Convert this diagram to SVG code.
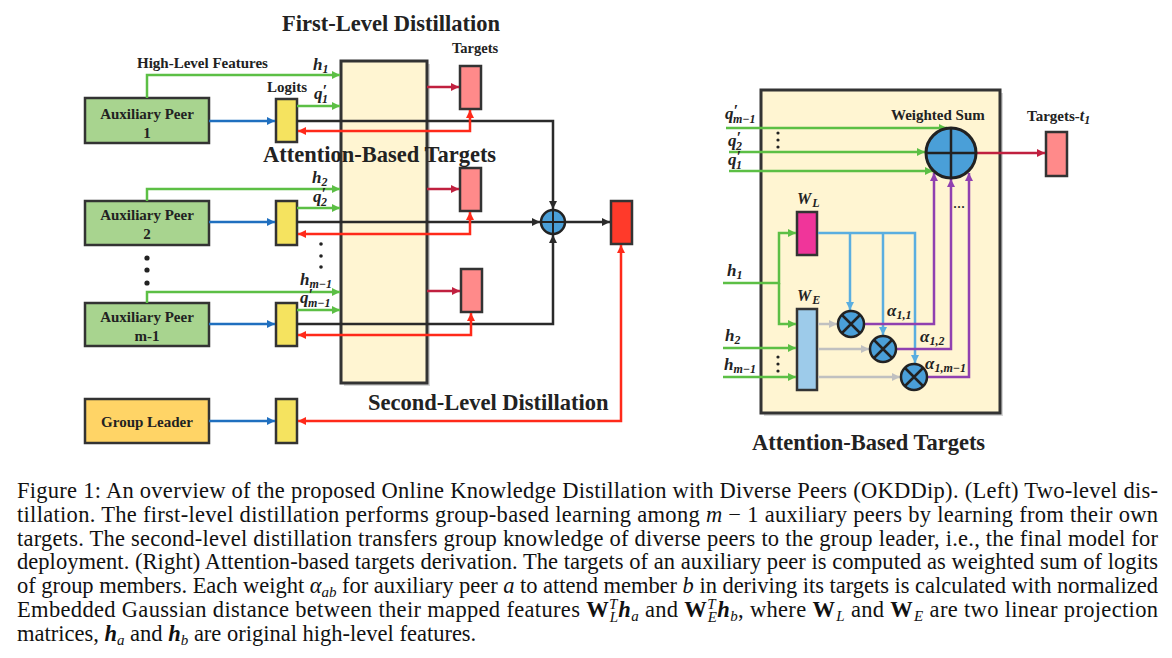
<svg xmlns="http://www.w3.org/2000/svg" width="1172" height="658" viewBox="0 0 1172 658">
<style>
.box{stroke:#333;stroke-width:2.5}
.lbl{font-family:"Liberation Serif",serif;font-weight:bold;fill:#222}
.m{font-family:"Liberation Serif",serif;font-weight:bold;font-style:italic;fill:#222}
.cap{font-family:"Liberation Serif",serif;font-size:22.5px;fill:#111}
.g{stroke:#5cbf45;stroke-width:2.5;fill:none}
.b{stroke:#1f6fbf;stroke-width:2.5;fill:none}
.k{stroke:#2a2a2a;stroke-width:2.5;fill:none}
.r{stroke:#ff2a1a;stroke-width:2.5;fill:none}
.c{stroke:#c0203f;stroke-width:2.5;fill:none}
.lb{stroke:#5aaee0;stroke-width:2.5;fill:none}
.gr{stroke:#c0c0c0;stroke-width:2.5;fill:none}
.p{stroke:#9040b0;stroke-width:2.5;fill:none}
</style>
<defs>
<marker id="ag" viewBox="0 0 10 10" refX="10" refY="5" markerWidth="9" markerHeight="8" markerUnits="userSpaceOnUse" orient="auto-start-reverse"><path d="M0,0L10,5L0,10z" fill="#5cbf45"/></marker>
<marker id="ab" viewBox="0 0 10 10" refX="10" refY="5" markerWidth="9" markerHeight="8" markerUnits="userSpaceOnUse" orient="auto-start-reverse"><path d="M0,0L10,5L0,10z" fill="#1f6fbf"/></marker>
<marker id="ak" viewBox="0 0 10 10" refX="10" refY="5" markerWidth="9" markerHeight="8" markerUnits="userSpaceOnUse" orient="auto-start-reverse"><path d="M0,0L10,5L0,10z" fill="#2a2a2a"/></marker>
<marker id="ar" viewBox="0 0 10 10" refX="10" refY="5" markerWidth="9" markerHeight="8" markerUnits="userSpaceOnUse" orient="auto-start-reverse"><path d="M0,0L10,5L0,10z" fill="#ff2a1a"/></marker>
<marker id="ac" viewBox="0 0 10 10" refX="10" refY="5" markerWidth="9" markerHeight="8" markerUnits="userSpaceOnUse" orient="auto-start-reverse"><path d="M0,0L10,5L0,10z" fill="#c0203f"/></marker>
<marker id="al" viewBox="0 0 10 10" refX="10" refY="5" markerWidth="9" markerHeight="8" markerUnits="userSpaceOnUse" orient="auto-start-reverse"><path d="M0,0L10,5L0,10z" fill="#5aaee0"/></marker>
<marker id="agr" viewBox="0 0 10 10" refX="10" refY="5" markerWidth="9" markerHeight="8" markerUnits="userSpaceOnUse" orient="auto-start-reverse"><path d="M0,0L10,5L0,10z" fill="#c0c0c0"/></marker>
<marker id="ap" viewBox="0 0 10 10" refX="10" refY="5" markerWidth="9" markerHeight="8" markerUnits="userSpaceOnUse" orient="auto-start-reverse"><path d="M0,0L10,5L0,10z" fill="#9040b0"/></marker>
</defs>
<rect width="1172" height="658" fill="#fff"/>

<!-- Left: attention box -->
<g id="attn-left">
<rect x="344" y="64" width="86" height="322" fill="#bbb" opacity="0.6"/>
<rect x="341" y="61" width="86" height="322" fill="#fff5d2" stroke="#333" stroke-width="3"/>
</g>

<g id="peer1"><rect class="box" x="85" y="98" width="124" height="45" fill="#a8d48f"/>
<text class="lbl" font-size="15" text-anchor="middle" x="147" y="119">Auxiliary Peer</text><text class="lbl" font-size="15" text-anchor="middle" x="147" y="138">1</text></g>
<g id="peer2"><rect class="box" x="85" y="201" width="124" height="44" fill="#a8d48f"/>
<text class="lbl" font-size="15" text-anchor="middle" x="147" y="220">Auxiliary Peer</text><text class="lbl" font-size="15" text-anchor="middle" x="147" y="239">2</text></g>
<g id="peerm1"><rect class="box" x="85" y="303" width="124" height="43" fill="#a8d48f"/>
<text class="lbl" font-size="15" text-anchor="middle" x="147" y="322">Auxiliary Peer</text><text class="lbl" font-size="15" text-anchor="middle" x="147" y="341">m-1</text></g>
<g id="leader"><rect class="box" x="85" y="399" width="124" height="44" fill="#ffd466"/>
<text class="lbl" font-size="15" text-anchor="middle" x="147" y="427">Group Leader</text></g>
<g id="vdots-left" fill="#222"><circle cx="147" cy="258" r="2.6"/><circle cx="147" cy="270" r="2.6"/><circle cx="147" cy="283" r="2.6"/></g>

<g id="logits1"><rect class="box" x="276" y="99" width="21" height="43" fill="#f5e35f"/></g>
<g id="logits2"><rect class="box" x="276" y="201" width="21" height="44" fill="#f5e35f"/></g>
<g id="logits3"><rect class="box" x="276" y="303" width="21" height="43" fill="#f5e35f"/></g>
<g id="logits4"><rect class="box" x="276" y="399" width="21" height="44" fill="#f5e35f"/></g>

<g id="target1"><rect class="box" x="460" y="66" width="21" height="43" fill="#ff8a8a"/></g>
<g id="target2"><rect class="box" x="460" y="168" width="21" height="43" fill="#ff8a8a"/></g>
<g id="target3"><rect class="box" x="461" y="269" width="21" height="43" fill="#ff8a8a"/></g>
<g id="final"><rect class="box" x="611" y="201" width="21" height="43" fill="#ff3a2a"/></g>

<g id="connectors-left">
<path class="g" d="M147,98V75H340" marker-end="url(#ag)"/>
<path class="g" d="M147,201V189H340" marker-end="url(#ag)"/>
<path class="g" d="M147,303V292H340" marker-end="url(#ag)"/>
<path class="g" d="M297,106H340" marker-end="url(#ag)"/>
<path class="g" d="M297,208H340" marker-end="url(#ag)"/>
<path class="g" d="M297,310H340" marker-end="url(#ag)"/>
<path class="b" d="M209,121H275" marker-end="url(#ab)"/>
<path class="b" d="M209,222H275" marker-end="url(#ab)"/>
<path class="b" d="M209,324H275" marker-end="url(#ab)"/>
<path class="b" d="M209,421H275" marker-end="url(#ab)"/>
<path class="k" d="M297,121H553V209" marker-end="url(#ak)"/>
<path class="k" d="M297,222H540" marker-end="url(#ak)"/>
<path class="k" d="M297,324H553V235" marker-end="url(#ak)"/>
<path class="k" d="M565,222H610" marker-end="url(#ak)"/>
<path class="c" d="M427,87H459" marker-end="url(#ac)"/>
<path class="c" d="M427,189H459" marker-end="url(#ac)"/>
<path class="c" d="M427,291H460" marker-end="url(#ac)"/>
<path class="r" d="M298,131H470V110" marker-start="url(#ar)" marker-end="url(#ar)"/>
<path class="r" d="M298,234H470V212" marker-start="url(#ar)" marker-end="url(#ar)"/>
<path class="r" d="M298,335H471V313" marker-start="url(#ar)" marker-end="url(#ar)"/>
<path class="r" d="M298,421H621V245" marker-start="url(#ar)" marker-end="url(#ar)"/>
</g>

<g id="plus-left">
<circle cx="553" cy="222" r="12" fill="#4a9fd8" stroke="#222" stroke-width="2.5"/>
<path d="M541,222H565M553,210V234" stroke="#222" stroke-width="2"/>
</g>
<g id="vdots-mid" fill="#222"><circle cx="321" cy="244" r="1.8"/><circle cx="321" cy="256" r="1.8"/><circle cx="321" cy="267" r="1.8"/></g>

<g id="labels-left">
<text class="lbl" font-size="22.5" x="282" y="31">First-Level Distillation</text>
<text class="lbl" font-size="14.5" x="452" y="53">Targets</text>
<text class="lbl" font-size="15" x="137" y="68">High-Level Features</text>
<text class="lbl" font-size="15" x="267" y="92">Logits</text>
<text class="lbl" font-size="22.5" x="263" y="162">Attention-Based Targets</text>
<text class="lbl" font-size="22.5" x="368" y="410">Second-Level Distillation</text>
<text class="m" font-size="17" x="313" y="70">h<tspan font-size="12" dy="3">1</tspan></text>
<text class="m" font-size="17" x="314" y="99">q<tspan font-size="16" dy="-3">′</tspan><tspan font-size="12" dx="-5" dy="7">1</tspan></text>
<text class="m" font-size="17" x="312" y="183">h<tspan font-size="12" dy="3">2</tspan></text>
<text class="m" font-size="17" x="313" y="202">q<tspan font-size="16" dy="-3">′</tspan><tspan font-size="12" dx="-5" dy="7">2</tspan></text>
<text class="m" font-size="17" x="300" y="285">h<tspan font-size="12" dy="3">m−1</tspan></text>
<text class="m" font-size="17" x="300" y="303">q<tspan font-size="16" dy="-3">′</tspan><tspan font-size="12" dx="-5" dy="7">m−1</tspan></text>
</g>

<!-- Right panel -->
<g id="attn-right">
<rect x="764" y="93" width="239" height="323" fill="#bbb" opacity="0.6"/>
<rect x="761" y="90" width="239" height="323" fill="#fff5d2" stroke="#333" stroke-width="3"/>
</g>
<g id="wl"><rect class="box" x="797" y="212" width="20" height="43" fill="#f0359a"/>
<text class="m" font-size="16" x="797" y="204">W<tspan font-size="12" dx="1" dy="3">L</tspan></text></g>
<g id="we"><rect class="box" x="797" y="309" width="20" height="81" fill="#9dcbea"/>
<text class="m" font-size="16" x="797" y="301">W<tspan font-size="12" dx="1" dy="3">E</tspan></text></g>
<g id="target-t1"><rect class="box" x="1046" y="132" width="21" height="44" fill="#ff8a8a"/></g>
<g id="vdots-r" fill="#222"><circle cx="778" cy="133" r="1.6"/><circle cx="778" cy="140" r="1.6"/><circle cx="778" cy="147" r="1.6"/><circle cx="778" cy="357" r="1.6"/><circle cx="778" cy="364" r="1.6"/><circle cx="778" cy="371" r="1.6"/></g>

<g id="connectors-right">
<path class="g" d="M726,128H947" marker-end="url(#ag)"/>
<path class="g" d="M729,152H925" marker-end="url(#ag)"/>
<path class="g" d="M729,171H933" marker-end="url(#ag)"/>
<path class="g" d="M723,283H779V233H796" marker-end="url(#ag)"/>
<path class="g" d="M779,283V324H796" marker-end="url(#ag)"/>
<path class="g" d="M723,348H796" marker-end="url(#ag)"/>
<path class="g" d="M723,377H796" marker-end="url(#ag)"/>
<path class="lb" d="M818,233H915V363" marker-end="url(#al)"/>
<path class="lb" d="M850,233V310" marker-end="url(#al)"/>
<path class="lb" d="M883,233V335" marker-end="url(#al)"/>
<path class="gr" d="M818,324H837" marker-end="url(#agr)"/>
<path class="gr" d="M818,349H869" marker-end="url(#agr)"/>
<path class="gr" d="M818,377H900" marker-end="url(#agr)"/>
<path class="p" d="M864,324H934V173" marker-end="url(#ap)"/>
<path class="p" d="M896,349H951V179" marker-end="url(#ap)"/>
<path class="p" d="M927,377H969V173" marker-end="url(#ap)"/>
<path class="c" d="M976,153H1045" marker-end="url(#ac)"/>
</g>

<g id="wsum">
<circle cx="951" cy="153" r="25" fill="#4a9fd8" stroke="#222" stroke-width="3"/>
<path d="M926,153H976M951,128V178" stroke="#222" stroke-width="2.5"/>
</g>
<g id="mul1"><circle cx="851" cy="324" r="13" fill="#4a9fd8" stroke="#222" stroke-width="2.5"/><path d="M842,315L860,333M860,315L842,333" stroke="#222" stroke-width="2.5"/></g>
<g id="mul2"><circle cx="883" cy="349" r="13" fill="#4a9fd8" stroke="#222" stroke-width="2.5"/><path d="M874,340L892,358M892,340L874,358" stroke="#222" stroke-width="2.5"/></g>
<g id="mul3"><circle cx="914" cy="377" r="13" fill="#4a9fd8" stroke="#222" stroke-width="2.5"/><path d="M905,368L923,386M923,368L905,386" stroke="#222" stroke-width="2.5"/></g>

<g id="labels-right">
<text class="lbl" font-size="15" x="891" y="120">Weighted Sum</text>
<text class="lbl" font-size="15" x="1027" y="121">Targets-<tspan class="m" font-size="16">t</tspan><tspan class="m" font-size="12" dy="3">1</tspan></text>
<text class="lbl" font-size="22.5" x="752" y="450">Attention-Based Targets</text>
<text class="m" font-size="17" x="725" y="119">q<tspan font-size="16" dy="-3">′</tspan><tspan font-size="12" dx="-5" dy="7">m−1</tspan></text>
<text class="m" font-size="17" x="728" y="146">q<tspan font-size="16" dy="-3">′</tspan><tspan font-size="12" dx="-5" dy="7">2</tspan></text>
<text class="m" font-size="17" x="728" y="165">q<tspan font-size="16" dy="-3">′</tspan><tspan font-size="12" dx="-5" dy="7">1</tspan></text>
<text class="m" font-size="17" x="727" y="276">h<tspan font-size="12" dy="3">1</tspan></text>
<text class="m" font-size="17" x="725" y="341">h<tspan font-size="12" dy="3">2</tspan></text>
<text class="m" font-size="17" x="724" y="370">h<tspan font-size="12" dy="3">m−1</tspan></text>
<text class="m" font-size="17" x="887" y="316">α<tspan font-size="12" dy="3">1,1</tspan></text>
<text class="m" font-size="17" x="920" y="342">α<tspan font-size="12" dy="3">1,2</tspan></text>
<text class="m" font-size="17" x="925" y="369">α<tspan font-size="12" dy="3">1,m−1</tspan></text>
<text class="lbl" font-size="12" x="953" y="211">···</text>
</g>

<g id="caption">
<text class="cap" x="17" y="498" textLength="1141" lengthAdjust="spacing">Figure 1: An overview of the proposed Online Knowledge Distillation with Diverse Peers (OKDDip). (Left) Two-level dis-</text>
<text class="cap" x="17" y="522" textLength="1141" lengthAdjust="spacing">tillation. The first-level distillation performs group-based learning among <tspan font-style="italic">m</tspan> − 1 auxiliary peers by learning from their own</text>
<text class="cap" x="17" y="546" textLength="1141" lengthAdjust="spacing">targets. The second-level distillation transfers group knowledge of diverse peers to the group leader, i.e., the final model for</text>
<text class="cap" x="17" y="569" textLength="1141" lengthAdjust="spacing">deployment. (Right) Attention-based targets derivation. The targets of an auxiliary peer is computed as weighted sum of logits</text>
<text class="cap" x="17" y="593" textLength="1141" lengthAdjust="spacing">of group members. Each weight <tspan font-style="italic">α</tspan><tspan font-style="italic" font-size="15" dy="4">ab</tspan><tspan dy="-4"> for auxiliary peer </tspan><tspan font-style="italic">a</tspan> to attend member <tspan font-style="italic">b</tspan> in deriving its targets is calculated with normalized</text>
<text class="cap" x="17" y="617" textLength="1141" lengthAdjust="spacing">Embedded Gaussian distance between their mapped features <tspan font-weight="bold">W</tspan><tspan font-style="italic" font-size="15" dy="-8">T</tspan><tspan font-style="italic" font-size="15" dx="-8" dy="13">L</tspan><tspan font-weight="bold" font-style="italic" dy="-5">h</tspan><tspan font-style="italic" font-size="15" dy="4">a</tspan><tspan dy="-4"> and </tspan><tspan font-weight="bold">W</tspan><tspan font-style="italic" font-size="15" dy="-8">T</tspan><tspan font-style="italic" font-size="15" dx="-8" dy="13">E</tspan><tspan font-weight="bold" font-style="italic" dy="-5">h</tspan><tspan font-style="italic" font-size="15" dy="4">b</tspan><tspan dy="-4">, where </tspan><tspan font-weight="bold">W</tspan><tspan font-style="italic" font-size="15" dx="1" dy="4">L</tspan><tspan dy="-4"> and </tspan><tspan font-weight="bold">W</tspan><tspan font-style="italic" font-size="15" dx="1" dy="4">E</tspan><tspan dy="-4"> are two linear projection</tspan></text>
<text class="cap" x="17" y="641">matrices, <tspan font-weight="bold" font-style="italic">h</tspan><tspan font-style="italic" font-size="15" dy="4">a</tspan><tspan dy="-4"> and </tspan><tspan font-weight="bold" font-style="italic">h</tspan><tspan font-style="italic" font-size="15" dy="4">b</tspan><tspan dy="-4"> are original high-level features.</tspan></text>
</g>
</svg>
